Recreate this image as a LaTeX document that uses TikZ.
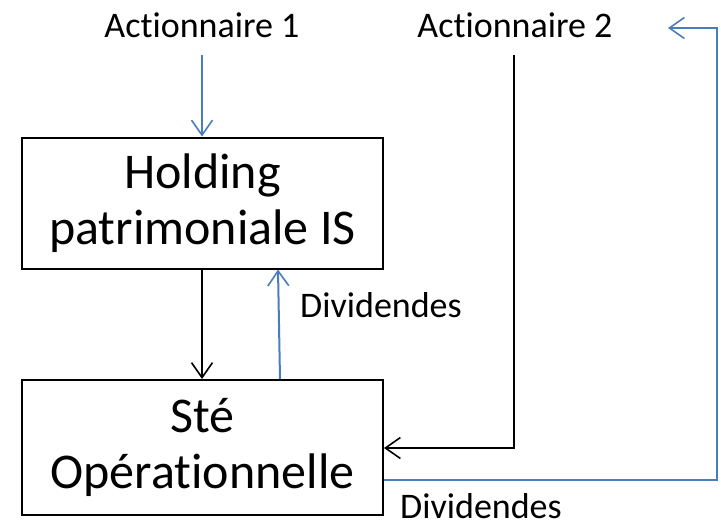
\documentclass[tikz,border=0pt]{standalone}
\usepackage{fontspec}
\setmainfont{Carlito}[Ligatures={NoCommon}]
\usetikzlibrary{arrows.meta}
\definecolor{ablue}{RGB}{74,126,187}
\begin{document}
\begin{tikzpicture}[x=1pt,y=-1pt,
  box/.style={draw=black,line width=2pt,minimum width=361pt,minimum height=131pt,align=center,font=\fontsize{50}{56}\selectfont,inner sep=0pt},
  lbl/.style={font=\fontsize{36}{40}\selectfont,inner sep=0pt,anchor=base},
  head/.style={-{Straight Barb[length=15pt,width=21pt,line width=1.6pt]}},
  bl/.style={ablue,line width=2pt,head},
  bk/.style={black,line width=1.5pt,head}]
\useasboundingbox (0,0) rectangle (721,528);
\node[box] (hold) at (202.5,203) {Holding\\patrimoniale IS};
\node[box,minimum height=135pt] (ste) at (202.5,447.5) {Sté\\Opérationnelle};
\node[lbl] (a1) at (202,37) {Actionnaire 1};
\node[lbl] (a2) at (515,37) {Actionnaire 2};
\node[lbl,anchor=base west] (d1) at (300,317) {Dividendes};
\node[lbl] (d2) at (481,518) {Dividendes};
\coordinate (a1b) at (202,55);
\coordinate (a2b) at (514,55);
\coordinate (rt) at (717,28);
\coordinate (tip) at (668,28);
\draw[bl] (a1b) -- (a1b |- hold.north);
\draw[bk] (hold.south -| 202,0) -- (ste.north -| 202,0);
\draw[bl] (ste.north -| 280,0) -- (hold.south -| 278,0);
\draw[bk] (a2b) -- (a2b |- 0,448) -- (ste.east |- 0,448);
\draw[bl] (ste.east |- 0,480) -- (rt |- 0,480) -- (rt) -- (tip);
\end{tikzpicture}
\end{document}
